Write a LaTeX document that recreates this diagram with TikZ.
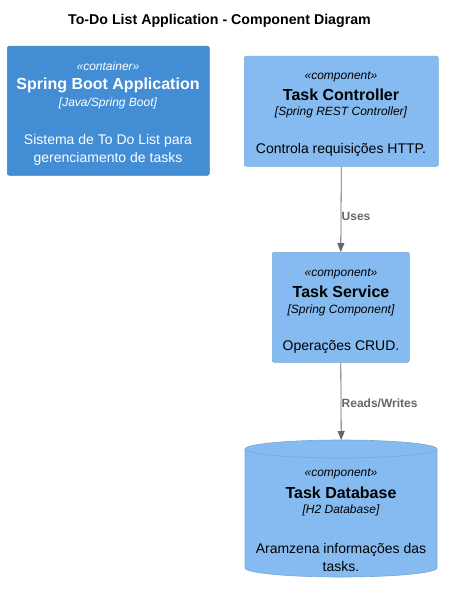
\documentclass[tikz,border=0pt]{standalone}
\usepackage{fontspec}
\setmainfont{Liberation Sans}
\usetikzlibrary{arrows.meta}
\definecolor{contfill}{HTML}{438DD5}
\definecolor{contline}{HTML}{3C7FC0}
\definecolor{compfill}{HTML}{85BBF0}
\definecolor{compline}{HTML}{78A8D8}
\definecolor{relgray}{HTML}{666666}
\tikzset{
  x=1pt,y=-1pt,
  contbox/.style={draw=contline,fill=contfill,rounded corners=2pt,line width=0.6pt,inner sep=0,anchor=north west},
  compbox/.style={draw=compline,fill=compfill,rounded corners=2pt,line width=0.6pt,inner sep=0,anchor=north west},
  stereo/.style={font=\fontsize{12}{14}\selectfont\itshape,inner sep=0},
  cname/.style={font=\fontsize{16}{19}\selectfont\bfseries,inner sep=0},
  ctech/.style={font=\fontsize{12}{14}\selectfont\itshape,inner sep=0},
  cdesc/.style={font=\fontsize{14}{18}\selectfont,inner sep=0,align=center},
  rel/.style={draw=relgray,line width=0.8pt,-{Triangle[length=9pt,width=7pt]}},
  rellabel/.style={font=\fontsize{12}{14}\selectfont\bfseries,text=relgray,inner sep=0,anchor=west},
}
\begin{document}
\begin{tikzpicture}
\useasboundingbox (0,0) rectangle (452,593);
% container
\node[contbox,minimum width=202pt,minimum height=129pt] (app) at (7,46) {};
% controller
\node[compbox,minimum width=194pt,minimum height=110pt] (ctrl) at (244,56) {};
% service
\node[compbox,minimum width=137pt,minimum height=110pt] (svc) at (272,252) {};
% database cylinder
\node[inner sep=0,minimum width=192pt,minimum height=137pt,anchor=north west] (db) at (245,440) {};
\path[draw=compline,fill=compfill,line width=0.6pt]
  (245,449) arc[start angle=180,end angle=360,x radius=96,y radius=9]
  -- (437,568) arc[start angle=0,end angle=180,x radius=96,y radius=9] -- cycle;
\draw[compline,line width=0.6pt] (245,449) arc[start angle=180,end angle=0,x radius=96,y radius=9];
% relations
\draw[rel] (ctrl.south) -- (svc.north);
\draw[rel] (svc.south) -- (db.north);
\begin{scope}[yshift=-1.5pt]
% title
\node[font=\fontsize{14.2}{17}\selectfont\bfseries,inner sep=0] (title) at (219.5,19) {To-Do List Application - Component Diagram};
\begin{scope}[every node/.append style={text=white}]
\node[stereo] (appst) at (108,65) {«container»};
\node[cname] (appn) at (108,84) {Spring Boot Application};
\node[ctech] (appt) at (108,102) {[Java/Spring Boot]};
\node[cdesc] (appd) at (108,148) {Sistema de To Do List para\\gerenciamento de tasks};
\end{scope}
\node[stereo] (ctrlst) at (341,75) {«component»};
\node[cname] (ctrln) at (341,93) {Task Controller};
\node[ctech] (ctrlt) at (341,111) {[Spring REST Controller]};
\node[cdesc] (ctrld) at (341,148) {Controla requisições HTTP.};
\node[stereo] (svcst) at (341,272) {«component»};
\node[cname] (svcn) at (341,290) {Task Service};
\node[ctech] (svct) at (341,309) {[Spring Component]};
\node[cdesc] (svcd) at (341,345) {Operações CRUD.};
\node[stereo] (dbst) at (341,472) {«component»};
\node[cname] (dbn) at (341,491) {Task Database};
\node[ctech] (dbt) at (341,509) {[H2 Database]};
\node[cdesc] (dbd) at (341,556) {Aramzena informações das\\tasks.};
\node[rellabel] (l1) at (341.5,215) {Uses};
\node[rellabel] (l2) at (341.5,402) {Reads/Writes};
\end{scope}
\end{tikzpicture}
\end{document}
